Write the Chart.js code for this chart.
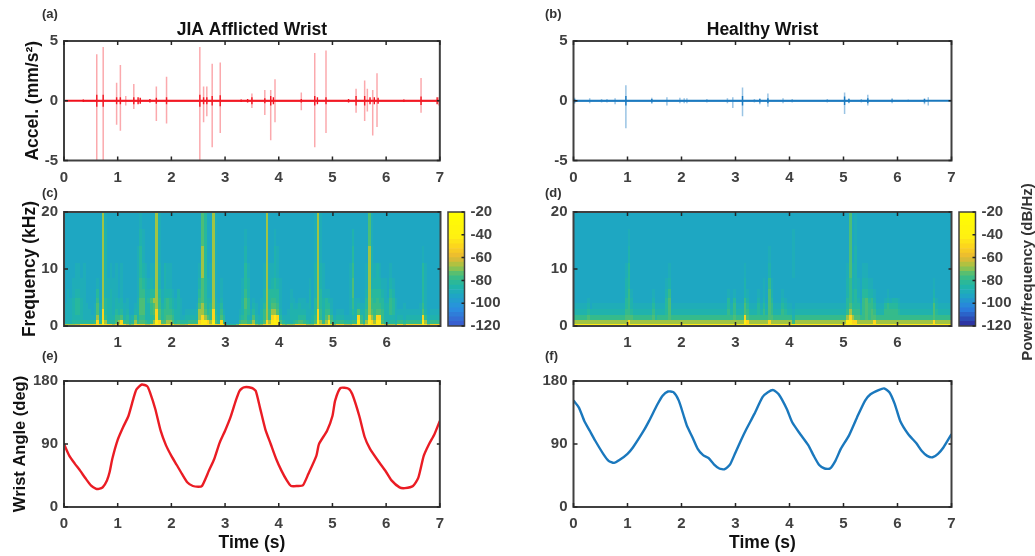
<!DOCTYPE html>
<html>
<head>
<meta charset="utf-8">
<title>Wrist vibration</title>
<script src="https://cdn.jsdelivr.net/npm/chart.js@4/dist/chart.umd.min.js"></script>
<style>
    html, body { margin: 0; background: #fff; }
    #page { position: relative; width: 1035px; height: 556px; overflow: hidden; font-family: "Liberation Sans", Arial, sans-serif; filter: blur(0.5px); }
    #page canvas { position: absolute; }
    .panel { position: absolute; font-size: 13px; font-weight: bold; color: #333; line-height: 14px; }
    #cbTitle { position: absolute; left: 1026px; top: 272px; font-size: 15px; font-weight: bold; color: #333;
        white-space: nowrap; transform: translate(-50%, -50%) rotate(-90deg); }
</style>
</head>
<body>
<div id="page">
    <div class="panel" style="left:42px;top:7px">(a)</div>
    <div class="panel" style="left:545px;top:7px">(b)</div>
    <div class="panel" style="left:42px;top:186px">(c)</div>
    <div class="panel" style="left:545px;top:186px">(d)</div>
    <div class="panel" style="left:42px;top:349px">(e)</div>
    <div class="panel" style="left:545px;top:349px">(f)</div>
    <div id="cbTitle">Power/frequency (dB/Hz)</div>
</div>
<script>
// Acceleration spikes, panel (a)
const spikeTimesA = [0.61, 0.73, 0.98, 1.05, 1.15, 1.30, 1.72, 1.91, 2.53, 2.60, 2.66, 2.76, 2.91, 3.50, 3.74, 3.85, 3.93, 4.42, 4.67, 4.88, 5.44, 5.60, 5.65, 5.75, 5.83, 6.65, 6.98];
const spikeHighsA = [3.9, 4.5, 1.5, 3.0, 0.4, 1.4, 1.2, 2.0, 4.5, 1.2, 1.2, 3.1, 3.2, 0.6, 0.9, 0.9, 1.8, 0.7, 4.0, 4.2, 1.0, 1.7, 1.0, 0.9, 2.3, 1.9, 0.3];
const spikeLowsA = [-5, -5, -2.0, -2.5, -0.4, -0.7, -1.7, -1.9, -5, -1.8, -1.3, -3.9, -2.7, -0.6, -1.2, -3.3, -1.8, -0.8, -3.9, -2.7, -1.0, -1.7, -0.9, -2.9, -2.2, -1.0, -0.4];
const burstTimesA = [0.36, 0.61, 0.73, 0.98, 1.05, 1.30, 1.38, 1.42, 1.60, 1.72, 1.91, 2.53, 2.60, 2.66, 2.76, 2.91, 3.30, 3.42, 3.50, 3.74, 3.85, 3.90, 4.42, 4.67, 4.72, 4.88, 5.30, 5.44, 5.60, 5.70, 5.78, 5.85, 6.33, 6.65, 6.95];
const burstSizesA = [0.1, 0.5, 0.5, 0.3, 0.3, 0.3, 0.3, 0.25, 0.15, 0.25, 0.3, 0.5, 0.3, 0.3, 0.4, 0.45, 0.1, 0.15, 0.3, 0.2, 0.4, 0.3, 0.15, 0.4, 0.3, 0.3, 0.15, 0.4, 0.4, 0.3, 0.3, 0.25, 0.1, 0.35, 0.3];

// Acceleration spikes, panel (b)
const spikeTimesB = [0.02, 0.30, 0.52, 0.62, 0.77, 0.97, 1.45, 1.73, 1.97, 2.05, 2.10, 2.47, 2.85, 2.95, 3.13, 3.35, 3.45, 3.60, 3.88, 4.05, 4.70, 5.02, 5.10, 5.33, 5.45, 5.90, 6.20, 6.50, 6.57];
const spikeHighsB = [0.25, 0.2, 0.15, 0.15, 0.2, 1.3, 0.25, 0.3, 0.25, 0.2, 0.2, 0.15, 0.2, 0.3, 1.1, 0.15, 0.2, 0.6, 0.2, 0.15, 0.15, 0.7, 0.2, 0.15, 0.5, 0.2, 0.1, 0.2, 0.3];
const spikeLowsB = [-0.25, -0.2, -0.15, -0.15, -0.3, -2.3, -0.25, -0.4, -0.2, -0.2, -0.2, -0.15, -0.2, -0.6, -1.3, -0.15, -0.3, -0.5, -0.2, -0.15, -0.15, -1.1, -0.2, -0.15, -0.4, -0.2, -0.1, -0.3, -0.4];
const burstTimesB = [0.02, 0.97, 1.45, 3.13, 3.45, 3.60, 5.02, 5.10, 5.45, 5.90, 6.50];
const burstSizesB = [0.15, 0.4, 0.15, 0.4, 0.15, 0.2, 0.35, 0.15, 0.2, 0.1, 0.15];

// Wrist angle traces, panels (e) and (f)
const angleTimesE = [0, 0.1, 0.2, 0.3, 0.4, 0.5, 0.6, 0.65, 0.72, 0.8, 0.85, 0.9, 1.0, 1.1, 1.2, 1.3, 1.35, 1.45, 1.55, 1.6, 1.7, 1.8, 1.9, 2.0, 2.1, 2.2, 2.3, 2.4, 2.5, 2.57, 2.7, 2.8, 2.9, 3.0, 3.1, 3.2, 3.27, 3.35, 3.5, 3.57, 3.65, 3.75, 3.85, 3.95, 4.05, 4.15, 4.23, 4.35, 4.45, 4.55, 4.7, 4.75, 4.9, 5.0, 5.05, 5.15, 5.3, 5.37, 5.5, 5.6, 5.7, 5.85, 6.0, 6.1, 6.25, 6.35, 6.5, 6.6, 6.7, 6.8, 6.9, 7];
const angleValuesE = [90, 73, 62, 52, 41, 31, 26, 26, 28, 38, 50, 69, 96, 114, 130, 157, 168, 175, 172.5, 164, 140, 109, 88, 73, 60, 47, 35, 30, 29, 30, 52, 69, 92, 109, 128, 152, 166, 171, 170, 166, 142, 111, 90, 69, 52, 38, 30, 30, 31, 47, 73, 90, 109, 130, 152, 170, 169, 161, 130, 100, 83, 66, 50, 38, 28, 27, 30, 42, 73, 90, 104, 123];
const angleTimesF = [0, 0.1, 0.2, 0.3, 0.4, 0.55, 0.65, 0.75, 0.85, 1.0, 1.1, 1.3, 1.4, 1.55, 1.65, 1.75, 1.85, 1.95, 2.05, 2.1, 2.2, 2.3, 2.4, 2.5, 2.6, 2.7, 2.8, 2.9, 3.0, 3.1, 3.2, 3.35, 3.5, 3.6, 3.7, 3.8, 3.95, 4.05, 4.2, 4.35, 4.45, 4.55, 4.65, 4.75, 4.85, 4.95, 5.1, 5.25, 5.4, 5.5, 5.65, 5.75, 5.85, 5.95, 6.05, 6.2, 6.35, 6.45, 6.55, 6.65, 6.75, 6.85, 7];
const angleValuesF = [152, 142, 123, 109, 95, 76, 66, 63, 67, 76, 85, 109, 123, 146, 159, 165, 164, 152, 128, 116, 100, 83, 74, 70, 61, 55, 54, 61, 78, 95, 111, 133, 157, 164, 167, 161, 140, 121, 104, 88, 73, 60, 55, 55, 66, 83, 102, 128, 152, 161, 167, 169.5, 164, 147, 123, 104, 91, 80, 73, 71, 76, 85, 104];

// Spectrogram bands (kHz) and the level of each band per 0.05 s column, low band first
const specFreqEdges = [0, 0.4, 1, 2, 3, 4, 5, 6.5, 8.5, 11, 14, 17, 20];
const specLevelDb = [-93, -90, -87, -83, -79, -75, -68, -50, -44, -40];
const specFloorDb = [-85, -80, -76, -72, -68, -65, -52, -48, -44, -40];
const specDefaultC = '642100000000';
const specTimesC = [0, 0.05, 0.1, 0.15, 0.2, 0.25, 0.3, 0.35, 0.4, 0.45, 0.5, 0.55, 0.6, 0.65, 0.7, 0.75, 0.8, 0.85, 0.9, 0.95, 1, 1.05, 1.1, 1.15, 1.2, 1.25, 1.3, 1.35, 1.4, 1.45, 1.5, 1.55, 1.6, 1.65, 1.7, 1.75, 1.8, 1.85, 1.9, 1.95, 2, 2.05, 2.1, 2.15, 2.2, 2.25, 2.3, 2.35, 2.4, 2.45, 2.5, 2.55, 2.6, 2.65, 2.7, 2.75, 2.8, 2.85, 2.9, 2.95, 3, 3.05, 3.1, 3.15, 3.2, 3.25, 3.3, 3.35, 3.4, 3.45, 3.5, 3.55, 3.6, 3.65, 3.7, 3.75, 3.8, 3.85, 3.9, 3.95, 4, 4.05, 4.1, 4.15, 4.2, 4.25, 4.3, 4.35, 4.4, 4.45, 4.5, 4.55, 4.6, 4.65, 4.7, 4.75, 4.8, 4.85, 4.9, 4.95, 5, 5.2, 5.25, 5.3, 5.35, 5.4, 5.45, 5.5, 5.55, 5.6, 5.65, 5.7, 5.75, 5.8, 5.85, 5.9, 5.95, 6, 6.05, 6.1, 6.15, 6.3, 6.6, 6.65, 6.7, 6.75];
const specColsC = ['421110000000', '421111100000', '421111000000', '432222110000', '532333211000', '532333211000', '632222110000', '631111111000', '631110000000', '631100000000', '631000000000', '641110000000', '876554310000', '632110000000', '987766666666', '764333222221', '632222110000', '632222211000', '532111110000', '654322111000', '764221000000', '875322111000', '642110000000', '543211000000', '321000000000', '432000000000', '765210000000', '642222111100', '654555443321', '654555432110', '542222221000', '532223210000', '643445321000', '764556311000', '987766666666', '875544322111', '653321100000', '754433222000', '865444211000', '865433211000', '754322100000', '532211000000', '542222200000', '431111000000', '431000000000', '532100000000', '642100000000', '642100000000', '642100000000', '642210000000', '876654321000', '987665556655', '886543333333', '875322110000', '764432111000', '987766666666', '754322111111', '632110000000', '875432110000', '643100000000', '200000000000', '100000000000', '100000000000', '100000000000', '300000000000', '642100000000', '753222110000', '754455433210', '642333221000', '641100000000', '765321000000', '432110000000', '321000000000', '432211000000', '654432211000', '976666666666', '764433311000', '987654321000', '998654332210', '987543321100', '653211110000', '431000000000', '321000000000', '421100000000', '422221100000', '532211000000', '642210000000', '653221000000', '653211000000', '643211000000', '431110000000', '421122210000', '432100000000', '754333222111', '987766666666', '764433322111', '642222111000', '765433100000', '986432100000', '754211000000', '431000000000', '531000000000', '531000000000', '531111111000', '642344554320', '642211000000', '987521000000', '654210000000', '532210000000', '764433211000', '987666666655', '876544322211', '865443321000', '987544322000', '987543321000', '654433210000', '532221110000', '422221000000', '532444321000', '532333210000', '321111000000', '431110000000', '642110000000', '987543333100', '764211111000', '531000000000'];
const specDefaultD = '864210000000';
const specTimesD = [0.25, 0.3, 0.95, 1, 1.05, 1.45, 1.5, 1.7, 1.75, 2.85, 2.95, 3.15, 3.2, 3.4, 3.5, 3.6, 3.65, 3.85, 3.9, 4.05, 5.05, 5.1, 5.15, 5.2, 5.25, 5.35, 5.4, 5.45, 5.5, 5.55, 5.75, 5.8, 5.85, 5.9, 5.95, 6, 6.65, 6.7];
const specColsD = ['865321000000', '864200000000', '865433221000', '975444433210', '865322100000', '865432100000', '863210000000', '864333210000', '865555421000', '864433100000', '865443100000', '987554221000', '875432100000', '864332100000', '864432110000', '875555542100', '865443210000', '864432100000', '864321000000', '842100001110', '986433221000', '987654445555', '876432211000', '875433322211', '865432110000', '864444321000', '865555321000', '864443210000', '865544210000', '875432100000', '864431000000', '864442100000', '864431000000', '864432000000', '864432000000', '864321000000', '875553210000', '864321000000'];

const colorbarLevels = [-120, -116, -112, -108, -104, -100, -96, -92, -88, -84, -80, -76, -72, -68, -64, -60, -56, -52, -48, -44, -40, -36, -32, -28, -24];
const dbStopValues = [-120, -105, -93, -85, -76, -68, -60, -52, -42, -20];
const dbStopColorsC = ['#3a58cc', '#2a8fe0', '#1ea7c2', '#20b6a6', '#40bd7e', '#a0c445', '#e8b832', '#fbd020', '#fff012', '#ffff00'];
const dbStopColorsD = ['#2d2a9a', '#2a7fe0', '#1ea7c2', '#20b6a6', '#40bd7e', '#a0c445', '#e8b832', '#fbd020', '#fff012', '#ffff00'];

const axisColor = '#404040';
const tickFont = { family: '"Liberation Sans", Arial, sans-serif', size: 15, weight: 'bold' };
const titleFont = { family: '"Liberation Sans", Arial, sans-serif', size: 17.5, weight: 'bold' };
const wristFont = { family: '"Liberation Sans", Arial, sans-serif', size: 16.5, weight: 'bold' };

// Interpolate a colour from the stops
function dbColor(db, colors) {
    let i = 0;
    while (i < dbStopValues.length - 2 && db > dbStopValues[i + 1]) i++;
    const f = Math.min(1, Math.max(0, (db - dbStopValues[i]) / (dbStopValues[i + 1] - dbStopValues[i])));
    const a = parseInt(colors[i].slice(1), 16);
    const b = parseInt(colors[i + 1].slice(1), 16);
    const mix = shift => Math.round(((a >> shift) & 255) * (1 - f) + ((b >> shift) & 255) * f);
    return `rgb(${mix(16)},${mix(8)},${mix(0)})`;
}

// Turn spike lists into one line that goes up and down at each time
function spikeTrace(times, highs, lows) {
    const points = [];
    times.forEach((t, i) => {
        points.push({ x: t, y: 0 }, { x: t, y: highs[i] }, { x: t, y: lows[i] }, { x: t, y: 0 });
    });
    return points;
}

// Turn the spectrogram columns into cells for the heat plugin
function specCells(times, cols, fallback) {
    const cells = [];
    for (let c = 0; c < 140; c++) {
        const idx = times.findIndex(t => Math.round(t * 20) === c);
        const col = idx >= 0 ? cols[idx] : fallback;
        for (let b = 0; b < specFreqEdges.length - 1; b++) {
            const levels = b === 0 ? specFloorDb : specLevelDb;
            cells.push({
                x: c * 0.05, x2: (c + 1) * 0.05,
                y: specFreqEdges[b], y2: specFreqEdges[b + 1],
                v: levels[Number(col[b])]
            });
        }
    }
    return cells;
}

// Draws the spectrogram cells through the chart scales
const heatPlugin = {
    id: 'heat',
    beforeDatasetsDraw(chart) {
        const ds = chart.data.datasets[0];
        if (!ds.heatColors) return;
        const { ctx, scales: { x, y } } = chart;
        ds.data.forEach(cell => {
            const x0 = Math.round(x.getPixelForValue(cell.x));
            const x1 = Math.round(x.getPixelForValue(cell.x2));
            const y0 = Math.round(y.getPixelForValue(cell.y));
            const y1 = Math.round(y.getPixelForValue(cell.y2));
            ctx.fillStyle = dbColor(cell.v, ds.heatColors);
            ctx.fillRect(x0, y1, x1 - x0, y0 - y1);
        });
    }
};

// Box round the plot with inward ticks on all sides
const boxPlugin = {
    id: 'box',
    afterDatasetsDraw(chart, args, opts) {
        const { ctx, chartArea: a, scales } = chart;
        ctx.save();
        ctx.strokeStyle = axisColor;
        ctx.lineWidth = opts.lineWidth || 2;
        ctx.strokeRect(a.left, a.top, a.right - a.left, a.bottom - a.top);
        ctx.strokeStyle = '#262626';
        ctx.lineWidth = 1.5;
        ctx.beginPath();
        if (!opts.colorbar) {
            scales.x.ticks.forEach(t => {
                const px = scales.x.getPixelForValue(t.value);
                ctx.moveTo(px, a.top); ctx.lineTo(px, a.top + 4);
                ctx.moveTo(px, a.bottom); ctx.lineTo(px, a.bottom - 4);
            });
        }
        const yScale = scales.y;
        yScale.ticks.forEach(t => {
            const py = yScale.getPixelForValue(t.value);
            ctx.moveTo(a.right, py); ctx.lineTo(a.right - 3, py);
            if (!opts.colorbar) { ctx.moveTo(a.left, py); ctx.lineTo(a.left + 4, py); }
        });
        ctx.stroke();
        ctx.restore();
    }
};

// Make a canvas at the given place on the page
function addCanvas(box) {
    const canvas = document.createElement('canvas');
    canvas.width = box.w;
    canvas.height = box.h;
    canvas.style.left = box.l + 'px';
    canvas.style.top = box.t + 'px';
    canvas.style.width = box.w + 'px';
    canvas.style.height = box.h + 'px';
    document.getElementById('page').appendChild(canvas);
    return canvas.getContext('2d');
}

// One plot panel. box = canvas place, plot = wanted plot edges on the page
function makePanel(box, plot, datasets, cfg) {
    const titleBlock = cfg.title ? 21 : 0;
    return new Chart(addCanvas(box), {
        type: 'scatter',
        data: { datasets },
        plugins: [heatPlugin, boxPlugin],
        options: {
            responsive: false,
            animation: false,
            layout: { padding: { left: 0, top: plot.top - box.t - titleBlock, right: box.l + box.w - plot.right, bottom: 0 } },
            plugins: {
                legend: { display: false },
                tooltip: { enabled: false },
                title: cfg.title
                    ? { display: true, text: cfg.title, color: '#111', font: titleFont, fullSize: false, padding: { top: 0, bottom: 0 } }
                    : { display: false }
            },
            elements: { point: { radius: 0 }, line: { tension: 0 } },
            scales: {
                x: {
                    type: 'linear', min: 0, max: 7,
                    grid: { display: false, drawTicks: false },
                    border: { display: false },
                    afterFit(s) { s.height = box.t + box.h - plot.bottom; },
                    afterBuildTicks(s) {
                        if (cfg.hideEnds) s.ticks = s.ticks.filter(t => t.value > 0 && t.value < 7);
                    },
                    ticks: { stepSize: 1, color: axisColor, font: tickFont, padding: 8, maxRotation: 0, autoSkip: false },
                    title: cfg.xTitle
                        ? { display: true, text: cfg.xTitle, color: '#111', font: titleFont, padding: { top: 0, bottom: 2.8 } }
                        : { display: false }
                },
                y: {
                    type: 'linear', min: cfg.yMin, max: cfg.yMax,
                    grid: { display: false, drawTicks: false },
                    border: { display: false },
                    afterFit(s) { s.width = plot.left - box.l; },
                    ticks: { stepSize: cfg.yStep, color: axisColor, font: tickFont, padding: 6, autoSkip: false },
                    title: cfg.yTitle
                        ? { display: true, text: cfg.yTitle, color: '#111', font: cfg.yTitleFont || titleFont, padding: { top: cfg.yTitleGap, bottom: 0 } }
                        : { display: false }
                }
            }
        }
    });
}

// Colour bar drawn as floating bars on a right hand axis
function makeColorbar(box, plot, colors) {
    const datasets = colorbarLevels.map(level => ({
        data: [[level, level + 4]],
        backgroundColor: dbColor(level + 2, colors),
        barPercentage: 1,
        categoryPercentage: 1,
        grouped: false
    }));
    return new Chart(addCanvas(box), {
        type: 'bar',
        data: { labels: [''], datasets },
        plugins: [boxPlugin],
        options: {
            responsive: false,
            animation: false,
            layout: { padding: { left: plot.left - box.l, top: plot.top - box.t, bottom: box.t + box.h - plot.bottom, right: 0 } },
            plugins: { legend: { display: false }, tooltip: { enabled: false }, box: { colorbar: true, lineWidth: 1.5 } },
            scales: {
                x: { display: false },
                y: {
                    position: 'right', min: -120, max: -20,
                    grid: { display: false, drawTicks: false },
                    border: { display: false },
                    afterFit(s) { s.width = box.l + box.w - plot.right; },
                    ticks: { stepSize: 20, color: axisColor, font: tickFont, padding: 6, autoSkip: false }
                }
            }
        }
    });
}

function spikeSets(times, highs, lows, bTimes, bSizes, color, faint) {
    return [
        { data: spikeTrace(times, highs, lows), showLine: true, borderColor: faint, borderWidth: 1.5 },
        { data: spikeTrace(bTimes, bSizes, bSizes.map(v => -v)), showLine: true, borderColor: color, borderWidth: 1.4 },
        { data: [{ x: 0, y: 0 }, { x: 7, y: 0 }], showLine: true, borderColor: color, borderWidth: 2 }
    ];
}

function angleSet(times, values, color) {
    return [{ data: times.map((t, i) => ({ x: t, y: values[i] })), showLine: true, borderColor: color, borderWidth: 2.4, tension: 0.2 }];
}

const leftPlot = { left: 64, right: 440.5 };
const rightPlot = { left: 573.5, right: 951.5 };
const rows = [{ top: 41, bottom: 160.5 }, { top: 212, bottom: 326 }, { top: 381, bottom: 507 }];
const leftBox = { l: 0, w: 452 };
const rightBox = { l: 500, w: 465 };

// Top row
makePanel({ ...leftBox, t: 20, h: 165 }, { ...leftPlot, ...rows[0] },
    spikeSets(spikeTimesA, spikeHighsA, spikeLowsA, burstTimesA, burstSizesA, '#f0101c', 'rgba(245,40,50,0.4)'),
    { title: 'JIA Afflicted Wrist', yMin: -5, yMax: 5, yStep: 5, yTitle: 'Accel. (mm/s²)', yTitleGap: 23 });
makePanel({ ...rightBox, t: 20, h: 165 }, { ...rightPlot, ...rows[0] },
    spikeSets(spikeTimesB, spikeHighsB, spikeLowsB, burstTimesB, burstSizesB, '#1a78bd', 'rgba(30,125,195,0.45)'),
    { title: 'Healthy Wrist', yMin: -5, yMax: 5, yStep: 5 });

// Spectrogram row
makePanel({ ...leftBox, t: 190, h: 165 }, { ...leftPlot, ...rows[1] },
    [{ data: specCells(specTimesC, specColsC, specDefaultC), heatColors: dbStopColorsC }],
    { yMin: 0, yMax: 20, yStep: 10, yTitle: 'Frequency (kHz)', yTitleGap: 20, hideEnds: true });
makePanel({ ...rightBox, t: 190, h: 165 }, { ...rightPlot, ...rows[1] },
    [{ data: specCells(specTimesD, specColsD, specDefaultD), heatColors: dbStopColorsD }],
    { yMin: 0, yMax: 20, yStep: 10, hideEnds: true });
makeColorbar({ l: 440, w: 70, t: 190, h: 160 }, { left: 448, right: 464.5, ...rows[1] }, dbStopColorsC);
makeColorbar({ l: 950, w: 70, t: 190, h: 160 }, { left: 959, right: 975.5, ...rows[1] }, dbStopColorsD);

// Wrist angle row
makePanel({ ...leftBox, t: 360, h: 196 }, { ...leftPlot, ...rows[2] },
    angleSet(angleTimesE, angleValuesE, '#ea1c24'),
    { yMin: 0, yMax: 180, yStep: 90, yTitle: 'Wrist Angle (deg)', yTitleFont: wristFont, yTitleGap: 11, xTitle: 'Time (s)' });
makePanel({ ...rightBox, t: 360, h: 196 }, { ...rightPlot, ...rows[2] },
    angleSet(angleTimesF, angleValuesF, '#1a78bd'),
    { yMin: 0, yMax: 180, yStep: 90, xTitle: 'Time (s)' });
</script>
</body>
</html>
